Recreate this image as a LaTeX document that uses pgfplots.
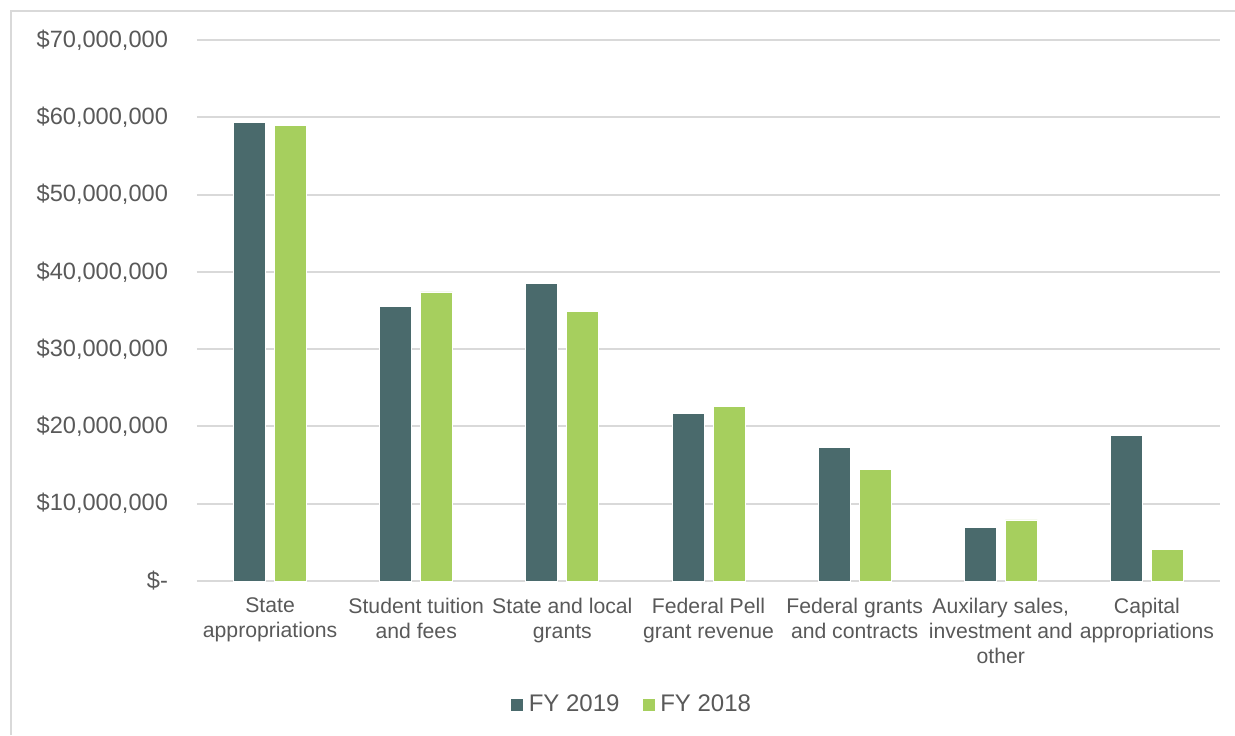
\documentclass[border=0pt]{standalone}
\usepackage{pgfplots}
\pgfplotsset{compat=1.18}
\usepackage{fontspec}
\setmainfont{Liberation Sans}
\definecolor{fydark}{HTML}{4A6A6C}
\definecolor{fygreen}{HTML}{A6CF5E}
\definecolor{txtgray}{HTML}{595959}
\definecolor{gridgray}{HTML}{D9D9D9}
\begin{document}
\begin{tikzpicture}
\useasboundingbox (-98.5pt,-77pt) rectangle (519pt,290.5pt);
\draw[gridgray, line width=1pt] (-93pt,-77pt) -- (-93pt,285pt) -- (519pt,285pt);
\begin{axis}[
    at={(0pt,0pt)}, anchor=south west,
    scale only axis,
    width=511.5pt,
    height=270.5pt,
    ybar=4.5pt,
    bar width=16pt,
    xmin=-0.5, xmax=6.5,
    ymin=0, ymax=70000000,
    xtick={0,...,6},
    xticklabels={State\\appropriations, Student tuition\\and fees, State and local\\grants, Federal Pell\\grant revenue, Federal grants\\and contracts, {Auxilary sales,\\investment and\\other}, Capital\\appropriations},
    xticklabel style={align=center, text=txtgray, font=\fontsize{10.6}{12.5}\selectfont, yshift=-5pt},
    ytick={0,10000000,...,70000000},
    yticklabels={{\$-}, {\$10,000,000}, {\$20,000,000}, {\$30,000,000}, {\$40,000,000}, {\$50,000,000}, {\$60,000,000}, {\$70,000,000}},
    yticklabel style={text=txtgray, font=\fontsize{11.8}{14}\selectfont, xshift=-11pt},
    scaled y ticks=false,
    major tick length=0pt,
    axis line style={draw=none},
    ymajorgrids,
    grid style={gridgray, line width=1pt},
    legend style={draw=none, at={(218pt,-62pt)}, anchor=center, legend columns=-1,
        font=\fontsize{12}{14}\selectfont, text=txtgray,
        nodes={inner xsep=2.5pt},
        /tikz/every even column/.append style={column sep=8.5pt}},
    legend image code/.code={\fill[#1] (0pt,-3.25pt) rectangle (6.5pt,3.25pt);},
    legend cell align=left,
]
\addplot[fill=fydark, draw=white, line width=0.4pt] coordinates {
    (0,59350000) (1,35500000) (2,38500000) (3,21700000) (4,17300000) (5,6950000) (6,18850000)};
\addplot[fill=fygreen, draw=white, line width=0.4pt] coordinates {
    (0,58950000) (1,37400000) (2,34900000) (3,22600000) (4,14400000) (5,7900000) (6,4100000)};
\legend{FY 2019, FY 2018}
\end{axis}
\end{tikzpicture}
\end{document}
